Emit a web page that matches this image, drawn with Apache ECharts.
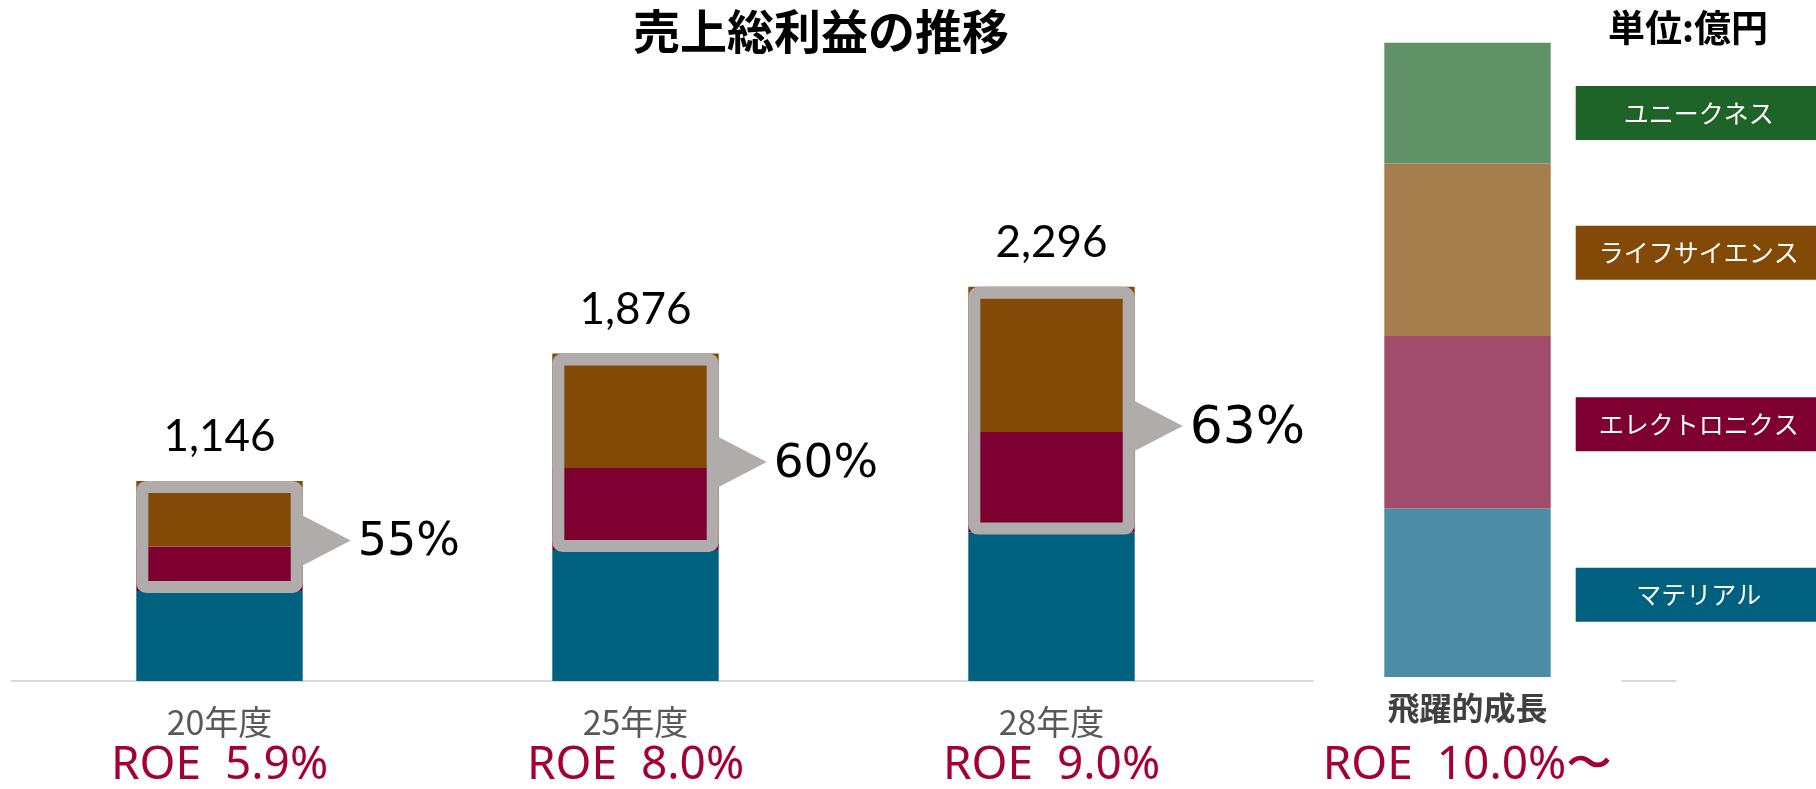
<!DOCTYPE html>
<html>
<head>
<meta charset="utf-8">
<script src="https://cdn.jsdelivr.net/npm/echarts@6/dist/echarts.min.js"></script>
<style>
  html, body { margin: 0; padding: 0; background: #fff; }
  #chart { width: 1816px; height: 789px; }
</style>
</head>
<body>
<div id="chart"></div>
<script>
// categories and labels
const categories = ['20年度', '25年度', '28年度', '飛躍的成長'];
const roeLabels = ['ROE  5.9%', 'ROE  8.0%', 'ROE  9.0%', 'ROE  10.0%〜'];
const totalLabels = ['1,146', '1,876', '2,296'];
const shareLabels = ['55%', '60%', '63%'];

// gross profit by segment (億円); 4th column is the conceptual "飛躍的成長" bar
const baseGap = [0, 0, 0, 23];
const material = [516, 750, 850, 965];
const electronics = [254, 470, 576, 988];
const lifeScience = [376, 656, 832, 988];
const uniqueness = [0, 0, 0, 691];

const FONT_JP = '"Noto Sans CJK JP", "Noto Sans", sans-serif';
const BOX_GRAY = '#B0ACAB';

const chart = echarts.init(document.getElementById('chart'));

// Segment series: real colour for the three years, faded colour plus a legend box on the last bar
function segment(name, values, dark, light, labelDy) {
  return {
    name: name,
    type: 'bar',
    stack: 'gp',
    barWidth: '40%',
    itemStyle: { color: dark },
    label: { show: false },
    data: values.map((v, i) => i === 3 ? {
      value: v,
      itemStyle: { color: light },
      label: {
        show: true,
        position: 'right',
        distance: 0,
        align: 'center',
        verticalAlign: 'middle',
        offset: [148, labelDy],
        formatter: name,
        color: '#fff',
        fontSize: 25,
        fontFamily: FONT_JP,
        backgroundColor: dark,
        width: 246,
        height: 54,
        lineHeight: 54
      }
    } : v)
  };
}

const lifeSeries = segment('ライフサイエンス', lifeScience, '#824907', '#A67E4E', 3);
// totals above the three real bars
lifeSeries.label = {
  show: true,
  position: 'top',
  distance: 22,
  formatter: p => totalLabels[p.dataIndex] || '',
  fontSize: 44,
  lineHeight: 44,
  fontFamily: 'Lato, sans-serif',
  color: '#000'
};

// grey frame around electronics + life science, with pointer and share text
const boxData = [0, 1, 2].map(i => [
  i,
  baseGap[i] + material[i],
  baseGap[i] + material[i] + electronics[i],
  baseGap[i] + material[i] + electronics[i] + lifeScience[i]
]);
const shareFontSize = [46, 47, 52];

const option = {
  animation: false,
  backgroundColor: '#fff',
  title: [
    {
      text: '売上総利益の推移',
      left: 816,
      top: 3,
      textAlign: 'center',
      textStyle: { fontSize: 47, fontWeight: 'bold', color: '#000', fontFamily: FONT_JP }
    },
    {
      text: '単位:億円',
      left: 1683,
      top: 4,
      textAlign: 'center',
      textStyle: { fontSize: 37, fontWeight: 'bold', color: '#000', fontFamily: FONT_JP }
    }
  ],
  grid: { left: 11.5, right: 140.5, top: 0, bottom: 106 },
  xAxis: {
    type: 'category',
    data: categories,
    axisTick: { show: false },
    axisLine: { lineStyle: { color: '#D9D9D9', width: 2 } },
    axisLabel: {
      interval: 0,
      margin: 23,
      formatter: (v, i) => i === 3
        ? `{cat4|${v}}\n{roe4|${roeLabels[i]}}`
        : `{cat|${v}}\n{roe|${roeLabels[i]}}`,
      rich: {
        cat: { fontSize: 34, lineHeight: 36, color: '#595959', fontFamily: FONT_JP },
        roe: { fontSize: 46, lineHeight: 52, color: '#A50034', fontFamily: '"Noto Sans", sans-serif' },
        cat4: { fontSize: 32, lineHeight: 8, color: '#404040', fontWeight: 'bold', fontFamily: FONT_JP },
        roe4: { fontSize: 46, lineHeight: 108, color: '#A50034', fontFamily: '"Noto Sans", sans-serif' }
      }
    }
  },
  yAxis: {
    type: 'value',
    min: 0,
    max: 3900,
    show: false,
    splitLine: { show: false }
  },
  series: [
    {
      name: 'base',
      type: 'bar',
      stack: 'gp',
      barWidth: '40%',
      silent: true,
      itemStyle: { color: 'rgba(0,0,0,0)' },
      data: baseGap
    },
    segment('マテリアル', material, '#00607F', '#4C8DA5', 2),
    segment('エレクトロニクス', electronics, '#7D0030', '#A24C6C', 2),
    lifeSeries,
    segment('ユニークネス', uniqueness, '#1E6428', '#609167', 10),
    {
      // gap in the baseline under the conceptual bar
      type: 'custom',
      silent: true,
      z: 2,
      encode: { x: 0, y: 1 },
      data: [[3, 0]],
      renderItem: (params, api) => {
        const p = api.coord([api.value(0), 0]);
        const w = api.size([1, 0])[0] * 0.74;
        return {
          type: 'rect',
          shape: { x: p[0] - w / 2, y: p[1] - 3, width: w, height: 8 },
          style: { fill: '#fff' }
        };
      }
    },
    {
      type: 'custom',
      silent: true,
      z: 5,
      encode: { x: 0, y: [1, 2, 3] },
      data: boxData,
      renderItem: (params, api) => {
        const i = params.dataIndex;
        const c = api.value(0);
        const bottom = api.coord([c, api.value(1)]);
        const mid = api.coord([c, api.value(2)]);
        const top = api.coord([c, api.value(3)]);
        const barW = api.size([1, 0])[0] * 0.4;
        const left = bottom[0] - barW / 2;
        const right = bottom[0] + barW / 2;
        const bw = 12;
        const tipY = mid[1] - 6;
        const tipX = right + 48;
        return {
          type: 'group',
          children: [
            {
              type: 'rect',
              shape: { x: left + bw / 2, y: top[1] + bw / 2, width: barW - bw, height: bottom[1] - top[1] - bw + 2, r: 4 },
              style: { fill: 'none', stroke: BOX_GRAY, lineWidth: bw }
            },
            {
              type: 'polygon',
              shape: { points: [[right - 2, tipY - 26], [tipX, tipY], [right - 2, tipY + 26]] },
              style: { fill: BOX_GRAY }
            },
            {
              type: 'text',
              x: tipX + 7,
              y: tipY + 3,
              style: {
                text: shareLabels[i],
                fill: '#000',
                font: shareFontSize[i] + 'px "DejaVu Sans", sans-serif',
                align: 'left',
                verticalAlign: 'middle'
              }
            }
          ]
        };
      }
    }
  ]
};

chart.setOption(option);
</script>
</body>
</html>
